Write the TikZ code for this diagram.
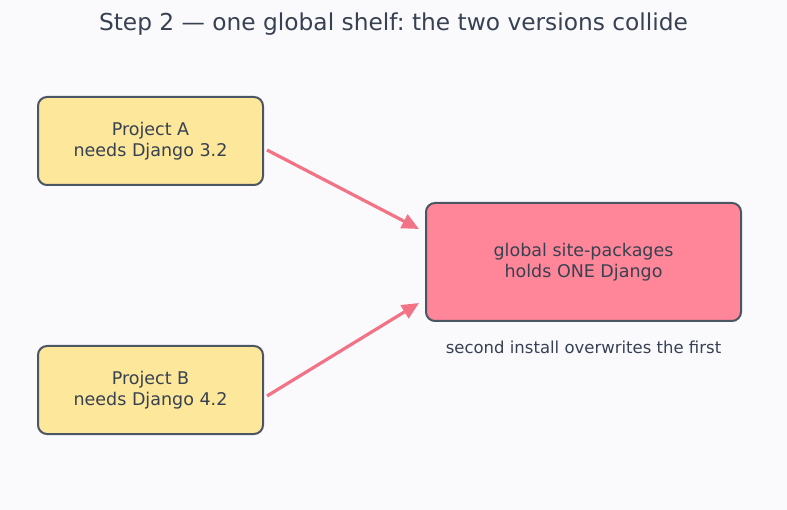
\documentclass[tikz,border=0pt]{standalone}
\usepackage{fontspec}
\setmainfont{DejaVu Sans}
\frenchspacing
\usetikzlibrary{arrows.meta}
\definecolor{bg}{HTML}{FAFAFD}
\definecolor{ink}{HTML}{374151}
\definecolor{edge}{HTML}{4B5563}
\definecolor{yel}{HTML}{FCE79B}
\definecolor{pnk}{HTML}{FF8599}
\definecolor{arr}{HTML}{F27386}
\tikzset{
  box/.style={draw=edge, line width=2pt, rounded corners=9pt, text=ink, align=center, font=\fontsize{17.5}{21}\selectfont, inner sep=0pt},
  link/.style={draw=arr, line width=3.2pt, -{Triangle[length=17pt,width=15pt]}, shorten >=0pt}
}
\begin{document}
\begin{tikzpicture}[x=1pt,y=-1pt]
\fill[bg] (0,0) rectangle (787,510);
\useasboundingbox (0,0) rectangle (787,510);
\node[text=ink, font=\fontsize{23.3}{27}\selectfont] (title) at (393.5,24) {Step 2 — one global shelf: the two versions collide};
\node[box, fill=yel, minimum width=225pt, minimum height=88pt] (a) at (150.5,141) {Project A\\needs Django 3.2};
\node[box, fill=yel, minimum width=225pt, minimum height=88pt] (b) at (150.5,390) {Project B\\needs Django 4.2};
\node[box, fill=pnk, minimum width=315pt, minimum height=118pt] (g) at (583.5,262) {global site-packages\\holds ONE Django};
\node[text=ink, font=\fontsize{16.5}{20}\selectfont] (cap) at (583.5,347) {second install overwrites the first};
\coordinate (a1) at (267,150);
\coordinate (a2) at (419,229);
\coordinate (b1) at (267,396);
\coordinate (b2) at (419,303);
\draw[link] (a1) -- (a2);
\draw[link] (b1) -- (b2);
\end{tikzpicture}
\end{document}
